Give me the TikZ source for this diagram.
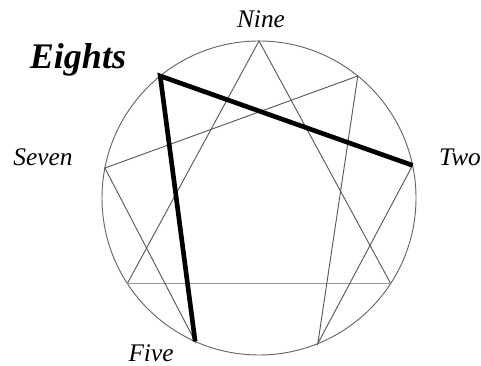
\documentclass[tikz,border=0pt]{standalone}
\usepackage{fontspec}
\setmainfont{Liberation Serif}
\usepackage{tikz}
\tikzset{
    ring/.style={draw=black!60, line width=0.7pt},
    chord/.style={draw=black!65, line width=0.7pt},
    base/.style={draw=black!40, line width=0.8pt},
    arm/.style={draw=black, line width=3.5pt, line cap=butt, line join=miter},
    pointlabel/.style={font=\fontsize{19}{19}\selectfont\itshape, anchor=base},
    typelabel/.style={font=\fontsize{27}{27}\selectfont\bfseries\itshape, anchor=base},
}
\begin{document}
\begin{tikzpicture}[x=0.75pt, y=0.75pt]
    \useasboundingbox (0,0) rectangle (481,366);
    % --- circle and its nine points ---
    \coordinate (c) at (259,168);
    \draw[ring] (c) circle (157);
    \foreach \n/\a in {9/90, 1/51, 2/12, 3/-33, 4/-68, 5/-114, 6/-147, 7/169, 8/129}
        \path (c) ++(\a:157) coordinate (p\n);
    % --- inner lines ---
    \draw[chord] (p3) -- (p9) -- (p6);
    \draw[base] (p6) -- (p3);
    \draw[chord] (p1) -- (p4) -- (p2) -- (p8) -- (p5) -- (p7) -- cycle;
    % --- lines of the eight ---
    \draw[arm] (p2) -- (p8) -- (p5);
    % --- labels ---
    \node[pointlabel] (nine) at (261,338) {Nine};
    \node[pointlabel] (two) at (460,200) {Two};
    \node[pointlabel] (five) at (151,4) {Five};
    \node[pointlabel] (seven) at (43,200) {Seven};
    \node[typelabel] (eights) at (78,297) {Eights};
\end{tikzpicture}
\end{document}
